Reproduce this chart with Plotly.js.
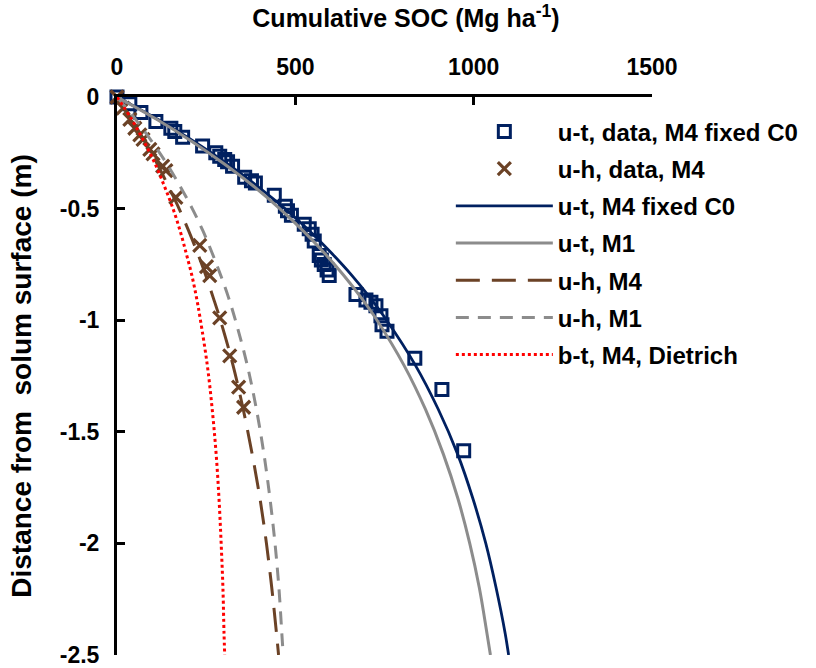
<!DOCTYPE html>
<html>
<head>
<meta charset="utf-8">
<script src="https://cdn.plot.ly/plotly-3.0.1.min.js"></script>
<style>html,body{margin:0;padding:0;background:#fff;}#chart{width:816px;height:668px;}</style>
</head>
<body>
<div id="chart"></div>
<script>
// Measured data: u-t profile (squares)
const utSOC   = [0, 36, 67, 109, 151, 162, 184, 240, 277, 288, 302, 310, 324, 358, 377, 388, 441, 472, 478, 489, 525, 539, 547, 553, 567, 573, 581, 589, 595, 670, 698, 712, 726, 740, 743, 757, 835, 911, 972];
const utDepth = [0, -0.03, -0.07, -0.11, -0.14, -0.155, -0.18, -0.22, -0.25, -0.265, -0.28, -0.29, -0.31, -0.36, -0.375, -0.385, -0.44, -0.49, -0.51, -0.53, -0.57, -0.59, -0.615, -0.645, -0.71, -0.73, -0.75, -0.775, -0.80, -0.885, -0.91, -0.92, -0.935, -0.98, -1.02, -1.05, -1.17, -1.31, -1.585];
// Measured data: u-h profile (crosses)
const uhSOC   = [0, 17, 36, 50, 64, 73, 92, 101, 128, 137, 165, 232, 251, 260, 288, 316, 341, 355];
const uhDepth = [0, -0.05, -0.10, -0.14, -0.17, -0.19, -0.235, -0.255, -0.31, -0.33, -0.45, -0.665, -0.76, -0.80, -0.99, -1.16, -1.30, -1.39];

// Model curves
const curveDepth = [0, -0.1, -0.2, -0.3, -0.4, -0.5, -0.6, -0.7, -0.8, -0.9, -1.0, -1.2, -1.4, -1.6, -1.8, -2.0, -2.2, -2.4, -2.5];
const utM4fixed  = [0, 114, 217, 310, 394, 471, 540, 602, 659, 710, 756, 836, 901, 955, 998, 1034, 1063, 1088, 1098];
const utM1       = [0, 111, 211, 301, 383, 456, 522, 582, 636, 685, 729, 804, 865, 915, 956, 989, 1016, 1037, 1047];
const uhM4       = [0, 41, 78, 113, 144, 174, 201, 226, 249, 270, 290, 325, 354, 379, 401, 419, 434, 447, 453];
const uhM1       = [0, 52, 98, 140, 177, 211, 241, 267, 291, 313, 332, 365, 391, 412, 429, 443, 454, 462, 466];
const btM4Diet   = [0, 41, 76, 107, 133, 157, 177, 194, 210, 223, 234, 253, 267, 278, 286, 292, 297, 300, 302];

const seriesNames = ["u-t, data, M4 fixed C0", "u-h, data, M4", "u-t, M4 fixed C0", "u-t, M1", "u-h, M4", "u-h, M1", "b-t, M4, Dietrich"];
const xTickVals = [0, 500, 1000, 1500];
const yTickVals = [0, -0.5, -1, -1.5, -2, -2.5];
const yTickText = ["0", "-0.5", "-1", "-1.5", "-2", "-2.5"];
const xTitle = "Cumulative SOC (Mg ha<sup>-1</sup>)";
const yTitle = "Distance from\u00a0 solum surface (m)";

const NAVY = "#002060", BROWN = "#6B4226", GRAY = "#8C8C8C", RED = "#FF0000";
const FAM = "Liberation Sans, Arial, sans-serif";

const traces = [
  {x: utSOC, y: utDepth, name: seriesNames[0], mode: "markers", type: "scatter", cliponaxis: false, legendgroup: "a",
   marker: {symbol: "square-open", size: 12, color: NAVY, line: {width: 3, color: NAVY}}},
  {x: uhSOC, y: uhDepth, name: seriesNames[1], mode: "markers", type: "scatter", cliponaxis: false, legendgroup: "b",
   marker: {symbol: "x-thin-open", size: 13, color: BROWN, line: {width: 3.2, color: BROWN}}},
  {x: utM4fixed, y: curveDepth, name: seriesNames[2], mode: "lines", type: "scatter", legendgroup: "c",
   line: {color: NAVY, width: 2.8, shape: "spline"}},
  {x: utM1, y: curveDepth, name: seriesNames[3], mode: "lines", type: "scatter", legendgroup: "d",
   line: {color: GRAY, width: 3, shape: "spline"}},
  {x: uhM4, y: curveDepth, name: seriesNames[4], mode: "lines", type: "scatter", legendgroup: "e",
   line: {color: BROWN, width: 3, dash: "24px,12px", shape: "spline"}},
  {x: uhM1, y: curveDepth, name: seriesNames[5], mode: "lines", type: "scatter", legendgroup: "f",
   line: {color: GRAY, width: 3, dash: "13px,9px", shape: "spline"}},
  {x: btM4Diet, y: curveDepth, name: seriesNames[6], mode: "lines", type: "scatter", legendgroup: "g",
   line: {color: RED, width: 3, dash: "dot", shape: "spline"}}
];

const layout = {
  width: 816, height: 668,
  margin: {l: 117, r: 162, t: 97, b: 13},
  paper_bgcolor: "#fff", plot_bgcolor: "#fff",
  font: {family: FAM, size: 22, color: "#000", weight: 700},
  title: {text: xTitle, x: 0.4975, xanchor: "center", y: 0.972, yanchor: "middle",
          font: {family: FAM, size: 25, color: "#000", weight: 700}},
  showlegend: true,
  legend: {x: 0.624, y: 0.978, xanchor: "left", yanchor: "top", bgcolor: "rgba(0,0,0,0)",
           font: {family: FAM, size: 24, color: "#000", weight: 700},
           traceorder: "grouped", tracegroupgap: 3, itemwidth: 97},
  xaxis: {
    side: "top", range: [0, 1500], tickvals: xTickVals, ticks: "inside", ticklen: 8, tickwidth: 3, tickcolor: "#000",
    showline: true, linewidth: 3, linecolor: "#000", showgrid: false, zeroline: false, ticklabelstandoff: 10,
    tickfont: {family: FAM, size: 23, color: "#000", weight: 700}
  },
  yaxis: {
    range: [-2.5, 0], tickvals: yTickVals, ticktext: yTickText, ticks: "inside", ticklen: 8, tickwidth: 3, tickcolor: "#000",
    showline: true, linewidth: 3, linecolor: "#000", showgrid: false, zeroline: false, ticklabelstandoff: 10,
    ticklabeloverflow: "allow",
    tickfont: {family: FAM, size: 23, color: "#000", weight: 700},
    title: {text: yTitle, font: {family: FAM, size: 28, color: "#000", weight: 700}, standoff: 20}
  }
};

Plotly.newPlot("chart", traces, layout, {displayModeBar: false, staticPlot: true});
</script>
</body>
</html>
